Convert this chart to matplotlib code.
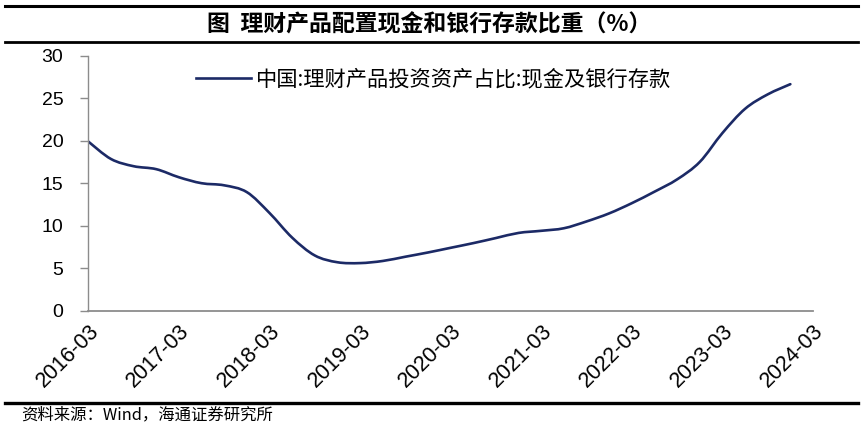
import matplotlib
matplotlib.use("Agg")
import matplotlib.pyplot as plt
from matplotlib.lines import Line2D
from matplotlib.path import Path
from matplotlib.patches import PathPatch

# ---- data (quarterly, 2016-03 .. 2023-12) ----
quarter_labels = [f"{y}-{m:02d}" for y in range(2016, 2024) for m in (3, 6, 9, 12)]
cash_share = [19.9, 17.85, 17.0, 16.65, 15.7, 15.0, 14.75, 13.95,
              11.5, 8.6, 6.5, 5.7, 5.6, 5.85, 6.35, 6.85,
              7.4, 7.95, 8.55, 9.15, 9.4, 9.7, 10.5, 11.45,
              12.65, 14.0, 15.45, 17.5, 20.9, 23.75, 25.45, 26.65]
tick_labels = ["2016-03", "2017-03", "2018-03", "2019-03", "2020-03",
               "2021-03", "2022-03", "2023-03", "2024-03"]
yticks = [0, 5, 10, 15, 20, 25, 30]

title = "图  理财产品配置现金和银行存款比重（%）"
legend_label = "中国:理财产品投资资产占比:现金及银行存款"
source = "资料来源：Wind，海通证券研究所"

CJK = ["Noto Sans CJK SC", "DejaVu Sans"]
LAT = ["Liberation Sans", "DejaVu Sans"]

W, H = 868, 433
fig = plt.figure(figsize=(W / 100, H / 100), dpi=100)

def fx(px):
    return px / W

def fy(py):
    return 1 - py / H

ax = fig.add_axes([fx(88.3), fy(310.7), fx(813) - fx(88.3), fy(55.7) - fy(310.7)])

x = list(range(len(cash_share)))
line_color = "#1C2A66"

# smoothed line (Excel-style Bezier through the data points)
verts = [(x[0], cash_share[0])]
codes = [Path.MOVETO]
n = len(x)
for i in range(n - 1):
    p0 = (x[max(i - 1, 0)], cash_share[max(i - 1, 0)])
    p1 = (x[i], cash_share[i])
    p2 = (x[i + 1], cash_share[i + 1])
    p3 = (x[min(i + 2, n - 1)], cash_share[min(i + 2, n - 1)])
    c1 = (p1[0] + (p2[0] - p0[0]) / 6.0, p1[1] + (p2[1] - p0[1]) / 6.0)
    c2 = (p2[0] - (p3[0] - p1[0]) / 6.0, p2[1] - (p3[1] - p1[1]) / 6.0)
    verts += [c1, c2, p2]
    codes += [Path.CURVE4] * 3
ax.add_patch(PathPatch(Path(verts, codes), facecolor="none", edgecolor=line_color,
                       lw=1.9, capstyle="round", joinstyle="round"))

ax.set_xlim(0, 32)
ax.set_ylim(0, 30)
ax.set_yticks(yticks)
ax.set_yticklabels([str(v) for v in yticks], fontfamily=LAT, fontsize=14)
ax.set_xticks(range(0, 33, 4))
ax.set_xticklabels(tick_labels, fontfamily=LAT, fontsize=15.5, rotation=45,
                   ha="right", va="top", rotation_mode="anchor")

for s in ("top", "right"):
    ax.spines[s].set_visible(False)
for s in ("left", "bottom"):
    ax.spines[s].set_color("#8C8C8C")
ax.spines["left"].set_linewidth(1.0)
ax.spines["bottom"].set_linewidth(1.3)
ax.tick_params(axis="y", direction="out", length=6, width=1.0, color="#8C8C8C", pad=12)
ax.tick_params(axis="x", length=0, pad=7)

# legend
leg_handle = Line2D([0], [0], color=line_color, lw=1.9)
ax.legend([leg_handle], [legend_label], loc="upper left",
          bbox_to_anchor=(fx(202) - fx(88.3), 1.0), bbox_transform=ax.transAxes,
          frameon=False, handlelength=2.6, handletextpad=0.2, borderaxespad=0.2,
          prop={"family": CJK, "size": 15.3})

# header / footer rules and texts
fig.add_artist(Line2D([fx(5), fx(858)], [fy(5.5), fy(5.5)], color="black", lw=2.2))
fig.add_artist(Line2D([fx(5), fx(858)], [fy(42), fy(42)], color="black", lw=2.0))
fig.add_artist(Line2D([fx(5), fx(858)], [fy(402.5), fy(402.5)], color="black", lw=2.4))

fig.text(fx(429), fy(24.5), title, ha="center", va="center",
         fontfamily=CJK, fontsize=16.5, fontweight="bold")
fig.text(fx(21), fy(415), source, ha="left", va="center",
         fontfamily=CJK, fontsize=11.8)

fig.savefig("out.png", dpi=100)
